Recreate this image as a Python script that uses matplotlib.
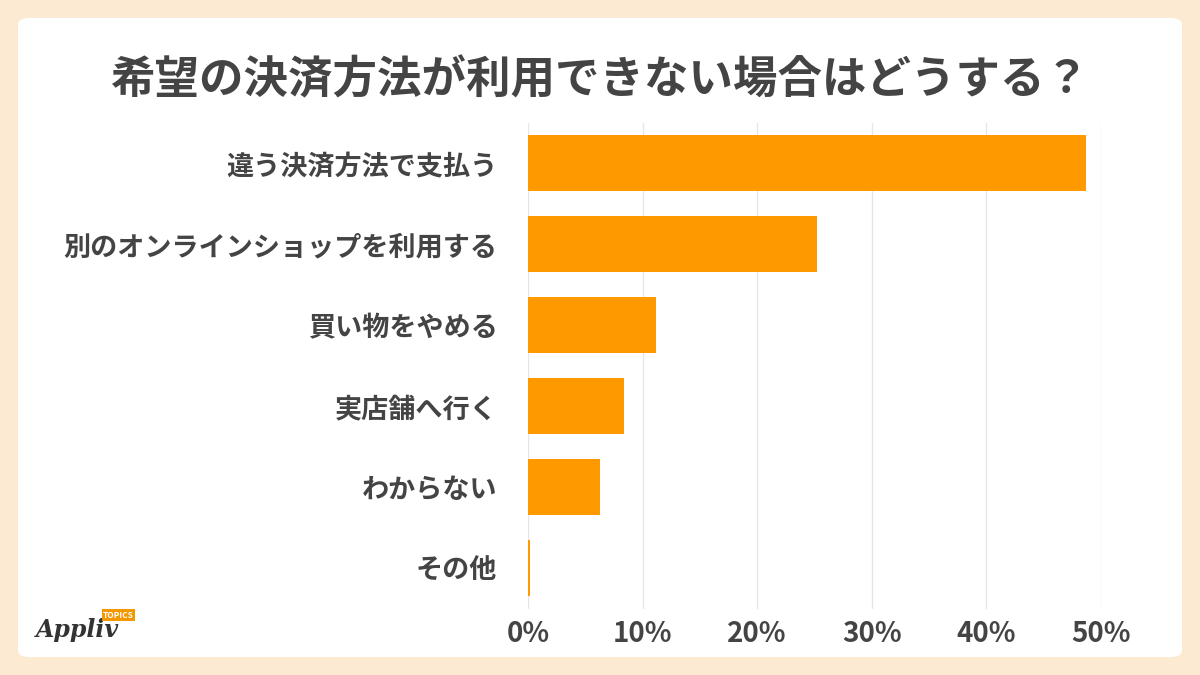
import matplotlib
matplotlib.use("Agg")
import matplotlib.pyplot as plt
from matplotlib.patches import FancyBboxPatch

categories = ["違う決済方法で支払う", "別のオンラインショップを利用する", "買い物をやめる", "実店舗へ行く", "わからない", "その他"]
values = [48.7, 25.2, 11.2, 8.4, 6.3, 0.2]
ticks = [0, 10, 20, 30, 40, 50]
tick_labels = ["0%", "10%", "20%", "30%", "40%", "50%"]

plt.rcParams["font.family"] = "Noto Sans CJK JP"
fig = plt.figure(figsize=(12, 6.75), dpi=100)
fig.patch.set_facecolor("#FCEBD2")
panel = FancyBboxPatch((18/1200, 18/675), 1164/1200, 639/675, boxstyle="round,pad=0,rounding_size=0.01",
                       transform=fig.transFigure, facecolor="white", edgecolor="none", zorder=-10)
fig.patches.append(panel)

ax = fig.add_axes([528/1200, 66.5/675, 573/1200, 486/675])
ax.set_zorder(5)
ax.set_facecolor("none")
y = list(range(len(categories)))
ax.barh(y, values, height=0.69, color="#FF9900", zorder=3)
ax.set_ylim(len(categories) - 0.5, -0.5)
ax.set_xlim(0, 50)
ax.set_xticks(ticks)
ax.set_xticklabels(tick_labels, fontsize=20, fontweight="bold", color="#444444")
ax.set_yticks(y)
ax.set_yticklabels(categories, fontsize=19.5, fontweight="bold", color="#444444")
ax.tick_params(length=0, pad=22, axis="y")
ax.tick_params(length=0, pad=8, axis="x")
ax.grid(axis="x", color="#E6E6E6", linewidth=1, zorder=0)
for s in ax.spines.values():
    s.set_visible(False)

fig.text(0.5, 595/675, "希望の決済方法が利用できない場合はどうする？", ha="center", va="center",
         fontsize=32, fontweight="bold", color="#444444")
fig.text(36/1200, 45/675, "Appliv", fontsize=17, fontstyle="italic", fontweight="bold",
         color="#333333", family="DejaVu Serif", va="center")
fig.text(103/1200, 60/675, "TOPICS", fontsize=6, fontweight="bold", color="white", va="center",
         bbox=dict(boxstyle="square,pad=0.15", facecolor="#F39800", edgecolor="none"))
fig.savefig("out.png", dpi=100, facecolor=fig.get_facecolor())
